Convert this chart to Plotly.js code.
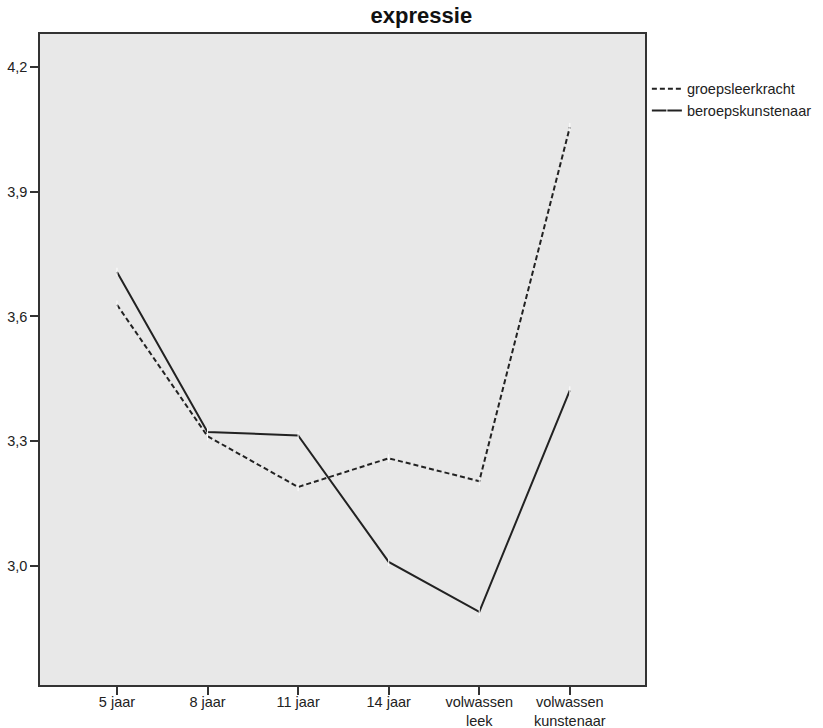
<!DOCTYPE html>
<html>
<head>
<meta charset="utf-8">
<script src="https://cdn.plot.ly/plotly-3.0.1.min.js"></script>
<style>html,body{margin:0;padding:0;background:#fff;}</style>
</head>
<body>
<div id="chart" style="width:823px;height:728px;"></div>
<script>
const categories = ["5 jaar", "8 jaar", "11 jaar", "14 jaar", "volwassen<br>leek", "volwassen<br>kunstenaar"];
const groepsleerkracht = [3.628, 3.312, 3.190, 3.259, 3.204, 4.055];
const beroepskunstenaar = [3.707, 3.322, 3.314, 3.010, 2.890, 3.422];
const yTicks = [3.0, 3.3, 3.6, 3.9, 4.2];

const font = {family: "Liberation Sans, Arial, sans-serif", color: "#222"};
const data = [
  {x: categories, y: groepsleerkracht, name: "groepsleerkracht", type: "scatter", mode: "lines+markers",
   line: {color: "#222", width: 2, dash: "5px,3px"},
   marker: {symbol: "line-ns", size: 6, line: {color: "#fff", width: 1}}},
  {x: categories, y: beroepskunstenaar, name: "beroepskunstenaar", type: "scatter", mode: "lines+markers",
   line: {color: "#222", width: 2},
   marker: {symbol: "line-ns", size: 6, line: {color: "#fff", width: 1}}}
];
const layout = {
  width: 823, height: 728,
  margin: {l: 40, r: 178, t: 34, b: 43},
  paper_bgcolor: "#fff", plot_bgcolor: "#e8e8e8",
  separators: ",.",
  font: Object.assign({size: 14}, font),
  title: {text: "<b>expressie</b>", font: Object.assign({size: 22}, font, {color: "#111"}),
          xref: "container", x: 0.512, xanchor: "center", yref: "container", y: 0.979, yanchor: "middle"},
  xaxis: {type: "category", range: [-0.85, 5.83], showgrid: false, zeroline: false,
          showline: true, linecolor: "#333", linewidth: 1.5, mirror: true,
          ticks: "outside", ticklen: 8, tickcolor: "#333", tickwidth: 1.5, ticklabelstandoff: -5,
          tickfont: Object.assign({size: 14.5}, font)},
  yaxis: {range: [2.714, 4.279], tickvals: yTicks, tickformat: ".1f", showgrid: false, zeroline: false,
          showline: true, linecolor: "#333", linewidth: 1.5, mirror: true,
          ticks: "outside", ticklen: 8, tickcolor: "#333", tickwidth: 1.5,
          tickfont: Object.assign({size: 14.5}, font)},
  showlegend: true,
  legend: {xref: "container", x: 0.786, xanchor: "left", yref: "container", y: 0.9, yanchor: "top",
           bgcolor: "rgba(0,0,0,0)", font: Object.assign({size: 14.5}, font), tracegroupgap: 0, itemwidth: 30}
};
Plotly.newPlot("chart", data, layout, {displayModeBar: false});
</script>
</body>
</html>
